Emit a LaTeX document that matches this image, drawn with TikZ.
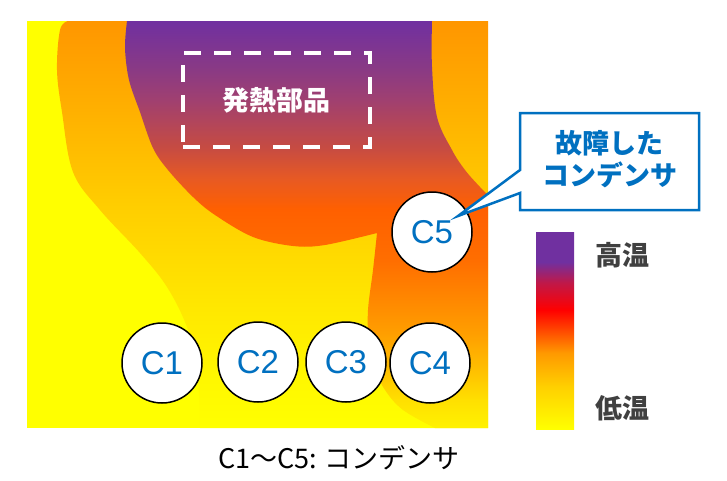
\documentclass[tikz,border=0pt]{standalone}
\usepackage{fontspec}
\setmainfont{Liberation Sans}
\newfontfamily\jp{Noto Sans CJK JP}
\definecolor{cblue}{HTML}{0070C0}
\definecolor{ylw}{HTML}{FFFF00}
\definecolor{txtgray}{HTML}{404040}
% blob colours
\definecolor{bA}{HTML}{FFF200}
\definecolor{bB}{HTML}{FFE000}
\definecolor{bC}{HTML}{FFC000}
\definecolor{bC2}{HTML}{FFA000}
\definecolor{bD}{HTML}{FF8800}
\definecolor{bE}{HTML}{FF6E00}
\definecolor{bF}{HTML}{FF6000}
\definecolor{bG}{HTML}{E85A22}
\definecolor{bH}{HTML}{C84C40}
\definecolor{bI}{HTML}{A04070}
\definecolor{bJ}{HTML}{8A3A84}
\definecolor{bK}{HTML}{7030A0}
% layer 2 colours
\definecolor{lA}{HTML}{FFFF00}
\definecolor{lB}{HTML}{FFF800}
\definecolor{lC}{HTML}{FFE600}
\definecolor{lD}{HTML}{FFCC00}
\definecolor{lE}{HTML}{FFB000}
\definecolor{lF}{HTML}{FF9600}
% legend colours
\definecolor{gA}{HTML}{FFFF00}
\definecolor{gB}{HTML}{FFD000}
\definecolor{gC}{HTML}{FF9900}
\definecolor{gD}{HTML}{FF0000}
\definecolor{gE}{HTML}{C01848}
\definecolor{gF}{HTML}{7030A0}
\pgfdeclareverticalshading{blobshade}{100bp}{color(0bp)=(bA); color(25bp)=(bA); color(28.4bp)=(bB); color(32.1bp)=(bC); color(36.4bp)=(bC2); color(40.7bp)=(bD); color(45.6bp)=(bE); color(51.8bp)=(bF); color(55.5bp)=(bG); color(59.2bp)=(bH); color(65.3bp)=(bI); color(69bp)=(bJ); color(75bp)=(bK); color(100bp)=(bK)}
\pgfdeclareverticalshading{layershade}{100bp}{color(0bp)=(lA); color(25bp)=(lA); color(30.9bp)=(lB); color(40.7bp)=(lC); color(53bp)=(lD); color(64.1bp)=(lE); color(75bp)=(lF); color(100bp)=(lF)}
\pgfdeclareverticalshading{legshade}{100bp}{color(0bp)=(gA); color(25bp)=(gA); color(35.7bp)=(gB); color(44.3bp)=(gC); color(55.2bp)=(gD); color(62.1bp)=(gE); color(67.4bp)=(gF); color(75bp)=(gF); color(100bp)=(gF)}
\tikzset{
  capnode/.style={circle, draw=black, line width=1.5pt, fill=white, minimum size=80pt, inner sep=0pt, text=cblue, font=\fontsize{33}{33}\selectfont},
  jpbold/.style={font=\jp\bfseries\fontsize{27}{32}\selectfont},
}
\begin{document}
\begin{tikzpicture}[x=1pt,y=-1pt]
\useasboundingbox (0,0) rectangle (727,480);
% base
\fill[ylw] (27,21) rectangle (488,428);
% layer 2
\shade[shading=layershade] (68,21) -- plot[smooth,tension=0.6] coordinates {(68,21) (60,30) (57,70) (62,112) (73,172) (100,210) (140,253) (167,287) (187,327) (197,367) (200,428)} -- (488,428) -- (488,21) -- cycle;
% hot blob
\shade[shading=blobshade] (432,21) -- (127,21) -- plot[smooth,tension=0.55] coordinates {(127,21) (125,48) (129,80) (140,112) (153,148) (168,170) (193,197) (215,215) (253,237) (293,246) (325,245) (377,233)} -- plot[smooth,tension=0.6] coordinates {(377,233) (373,270) (368,310) (369,340) (376,370) (385,390) (403,410) (435,428)} -- (488,428) -- (488,195) -- plot[smooth,tension=0.6] coordinates {(488,195) (480,187) (465,170) (452,150) (437,117) (432,67) (432,21)} -- cycle;
% heat source
\node[draw=white, dash pattern=on 17pt off 13pt, line width=3.5pt, minimum width=187pt, minimum height=94pt, inner sep=0pt, text=white, jpbold] (heat) at (276.5,100) {発熱部品};
% capacitors
\node[capnode] (c1) at (162,363) {C1};
\node[capnode] (c2) at (258,362) {C2};
\node[capnode] (c3) at (346,362) {C3};
\node[capnode] (c4) at (430,363) {C4};
\node[capnode] (c5) at (432,232) {C5};
% callout
\coordinate (tip) at (458,216);
\draw[cblue, line width=2.5pt, fill=white, line join=miter] (520,113) -- (699,113) -- (699,210) -- (520,210) -- (520,193) -- (tip) -- (520,170) -- cycle;
\node[jpbold, text=cblue, align=center, inner sep=0pt] (callout) at (609.5,159) {故障した\\コンデンサ};
% legend
\node[shade, shading=legshade, minimum width=38pt, minimum height=197pt, inner sep=0pt] (bar) at (555,330.5) {};
\node[jpbold, text=txtgray, anchor=west, inner sep=0pt] (hi) at (595,255) {高温};
\node[jpbold, text=txtgray, anchor=west, inner sep=0pt] (lo) at (595,408) {低温};
% caption
\node[font=\jp\fontsize{27}{30}\selectfont, text=black, inner sep=0pt] (caption) at (339,458) {C1～C5: コンデンサ};
\end{tikzpicture}
\end{document}
